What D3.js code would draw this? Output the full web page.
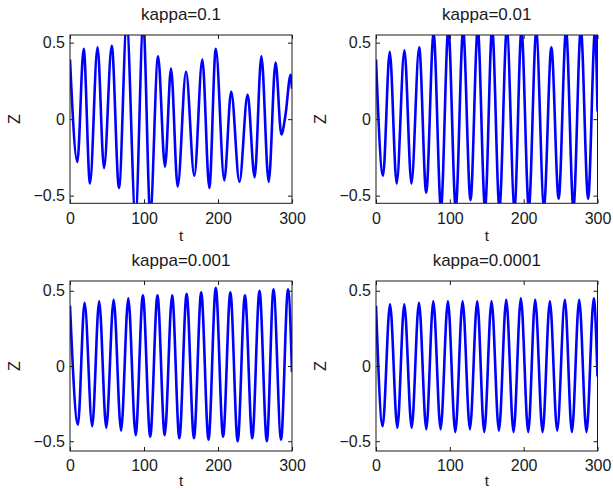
<!DOCTYPE html>
<html>
<head>
<meta charset="utf-8">
<script src="https://cdn.jsdelivr.net/npm/d3@7"></script>
<style>
  body { margin: 0; background: #fff; }
  svg { display: block; }
  text { font-family: "Liberation Sans", Arial, sans-serif; fill: #1a1a1a; }
</style>
</head>
<body>
<svg id="chart" width="613" height="490"></svg>
<script>
// Panel titles and shared tick values
const titles = ["kappa=0.1", "kappa=0.01", "kappa=0.001", "kappa=0.0001"];
const tTicks = [0, 100, 200, 300];
const zTicks = [-0.5, 0, 0.5];

// Z(t) turning points for each kappa (start, alternating troughs/peaks, end)
const tK1 = [0, 9.9, 18.5, 27, 37.2, 46, 56.4, 66.2, 76.6, 88.5, 99, 108.5, 119, 128.4, 136.5, 145.5, 156.8, 168, 178.8, 188.3, 197, 208.5, 217.8, 229, 240, 249.5, 258.6, 268.5, 277.8, 285.6, 291, 298.2, 300];
const zK1 = [0.39, -0.28, 0.46, -0.42, 0.47, -0.32, 0.48, -0.45, 0.63, -0.64, 0.63, -0.62, 0.41, -0.31, 0.33, -0.44, 0.31, -0.37, 0.39, -0.45, 0.46, -0.40, 0.18, -0.41, 0.16, -0.38, 0.41, -0.41, 0.37, -0.10, 0.02, 0.29, 0.2];

const tK2 = [0, 9.5, 18.6, 28, 38.5, 48, 58.5, 68, 78, 88, 98, 108, 118, 128, 137.8, 147.7, 157.3, 167.2, 177.2, 187.6, 197, 207, 217, 227.5, 237.5, 247.4, 257.4, 267.4, 277.4, 287.3, 296.7, 300];
const zK2 = [0.39, -0.37, 0.44, -0.42, 0.45, -0.42, 0.47, -0.48, 0.56, -0.58, 0.59, -0.58, 0.58, -0.53, 0.59, -0.58, 0.59, -0.58, 0.59, -0.58, 0.58, -0.58, 0.57, -0.57, 0.47, -0.52, 0.58, -0.58, 0.59, -0.52, 0.58, 0.05];

const tK3 = [0, 10.7, 19.7, 30, 39.4, 49, 59, 69, 78.8, 88.7, 98.5, 108.4, 118.2, 128, 138, 147.8, 157.6, 167.5, 177.3, 187.2, 197, 206.9, 216.7, 226.6, 236.4, 246.3, 256.1, 266, 275, 285.2, 294.6, 300];
const zK3 = [0.40, -0.39, 0.42, -0.40, 0.43, -0.41, 0.44, -0.43, 0.45, -0.46, 0.47, -0.47, 0.47, -0.46, 0.47, -0.48, 0.48, -0.48, 0.49, -0.49, 0.52, -0.47, 0.49, -0.50, 0.47, -0.48, 0.50, -0.50, 0.51, -0.49, 0.51, -0.04];

const tK4 = [0, 9, 19, 28.9, 38.3, 48.3, 58.2, 68.1, 77.6, 87.5, 97.4, 107.4, 117.3, 127.2, 137.1, 146.6, 156.5, 166.5, 176.4, 186.3, 196.2, 206.2, 215.6, 225.6, 235.5, 245.4, 255.8, 265.3, 275.2, 285.1, 295, 300];
const zK4 = [0.40, -0.40, 0.41, -0.41, 0.41, -0.41, 0.42, -0.42, 0.43, -0.42, 0.43, -0.44, 0.43, -0.42, 0.43, -0.44, 0.43, -0.43, 0.44, -0.44, 0.45, -0.44, 0.44, -0.44, 0.43, -0.43, 0.44, -0.44, 0.44, -0.44, 0.45, -0.07];

// Panel placement within the figure
const panels = [
  { title: titles[0], t: tK1, z: zK1, left: 70,  right: 292,   top: 35,  bottom: 203.3, zLim: 0.55,  tGap: 38 },
  { title: titles[1], t: tK2, z: zK2, left: 376, right: 597.5, top: 35,  bottom: 203.3, zLim: 0.55,  tGap: 38 },
  { title: titles[2], t: tK3, z: zK3, left: 70,  right: 292,   top: 281, bottom: 451,   zLim: 0.565, tGap: 35 },
  { title: titles[3], t: tK4, z: zK4, left: 376, right: 597.5, top: 281, bottom: 451,   zLim: 0.565, tGap: 35 }
];

const svg = d3.select("#chart");
const fmt = d3.format("");

panels.forEach((p, i) => {
  const x = d3.scaleLinear().domain([0, 300]).range([p.left, p.right]);
  const y = d3.scaleLinear().domain([-p.zLim, p.zLim]).range([p.bottom, p.top]);
  const g = svg.append("g");

  const clipId = "clip" + i;
  svg.append("clipPath").attr("id", clipId)
    .append("rect")
    .attr("x", p.left).attr("y", p.top)
    .attr("width", p.right - p.left).attr("height", p.bottom - p.top);

  // Z(t) trace
  const pts = p.t.map((t, k) => [t, p.z[k]]);
  const line = d3.line()
    .x(d => x(d[0]))
    .y(d => y(d[1]))
    .curve(d3.curveMonotoneX);
  g.append("path")
    .datum(pts)
    .attr("clip-path", `url(#${clipId})`)
    .attr("fill", "none")
    .attr("stroke", "#0000ff")
    .attr("stroke-width", 2.6)
    .attr("stroke-linejoin", "round")
    .attr("d", line);

  // Axes with inward ticks on all four sides
  const tick = 4;
  const styleAxis = sel => {
    sel.select(".domain").remove();
    sel.selectAll(".tick line").attr("stroke", "#1a1a1a");
    sel.selectAll(".tick text").style("font-size", "16px").attr("fill", "#1a1a1a");
  };
  g.append("g").attr("transform", `translate(0,${p.bottom})`)
    .call(d3.axisBottom(x).tickValues(tTicks).tickSizeInner(-tick).tickSizeOuter(0).tickPadding(9).tickFormat(fmt))
    .call(styleAxis);
  g.append("g").attr("transform", `translate(0,${p.top})`)
    .call(d3.axisTop(x).tickValues(tTicks).tickSizeInner(-tick).tickSizeOuter(0).tickFormat(""))
    .call(styleAxis);
  g.append("g").attr("transform", `translate(${p.left},0)`)
    .call(d3.axisLeft(y).tickValues(zTicks).tickSizeInner(-tick).tickSizeOuter(0).tickPadding(5).tickFormat(fmt))
    .call(styleAxis);
  g.append("g").attr("transform", `translate(${p.right},0)`)
    .call(d3.axisRight(y).tickValues(zTicks).tickSizeInner(-tick).tickSizeOuter(0).tickFormat(""))
    .call(styleAxis);

  // Frame
  g.append("rect")
    .attr("x", p.left).attr("y", p.top)
    .attr("width", p.right - p.left).attr("height", p.bottom - p.top)
    .attr("fill", "none").attr("stroke", "#1a1a1a").attr("stroke-width", 1);

  const cx = (p.left + p.right) / 2;
  const cy = (p.top + p.bottom) / 2;

  g.append("text")
    .attr("x", cx).attr("y", p.top - 15)
    .attr("text-anchor", "middle")
    .style("font-size", "17px")
    .text(p.title);

  g.append("text")
    .attr("x", cx).attr("y", p.bottom + p.tGap)
    .attr("text-anchor", "middle")
    .style("font-size", "15px")
    .text("t");

  g.append("text")
    .attr("transform", `translate(${p.left - 50},${cy}) rotate(-90)`)
    .attr("text-anchor", "middle")
    .style("font-size", "16px")
    .text("Z");
});
</script>
</body>
</html>
